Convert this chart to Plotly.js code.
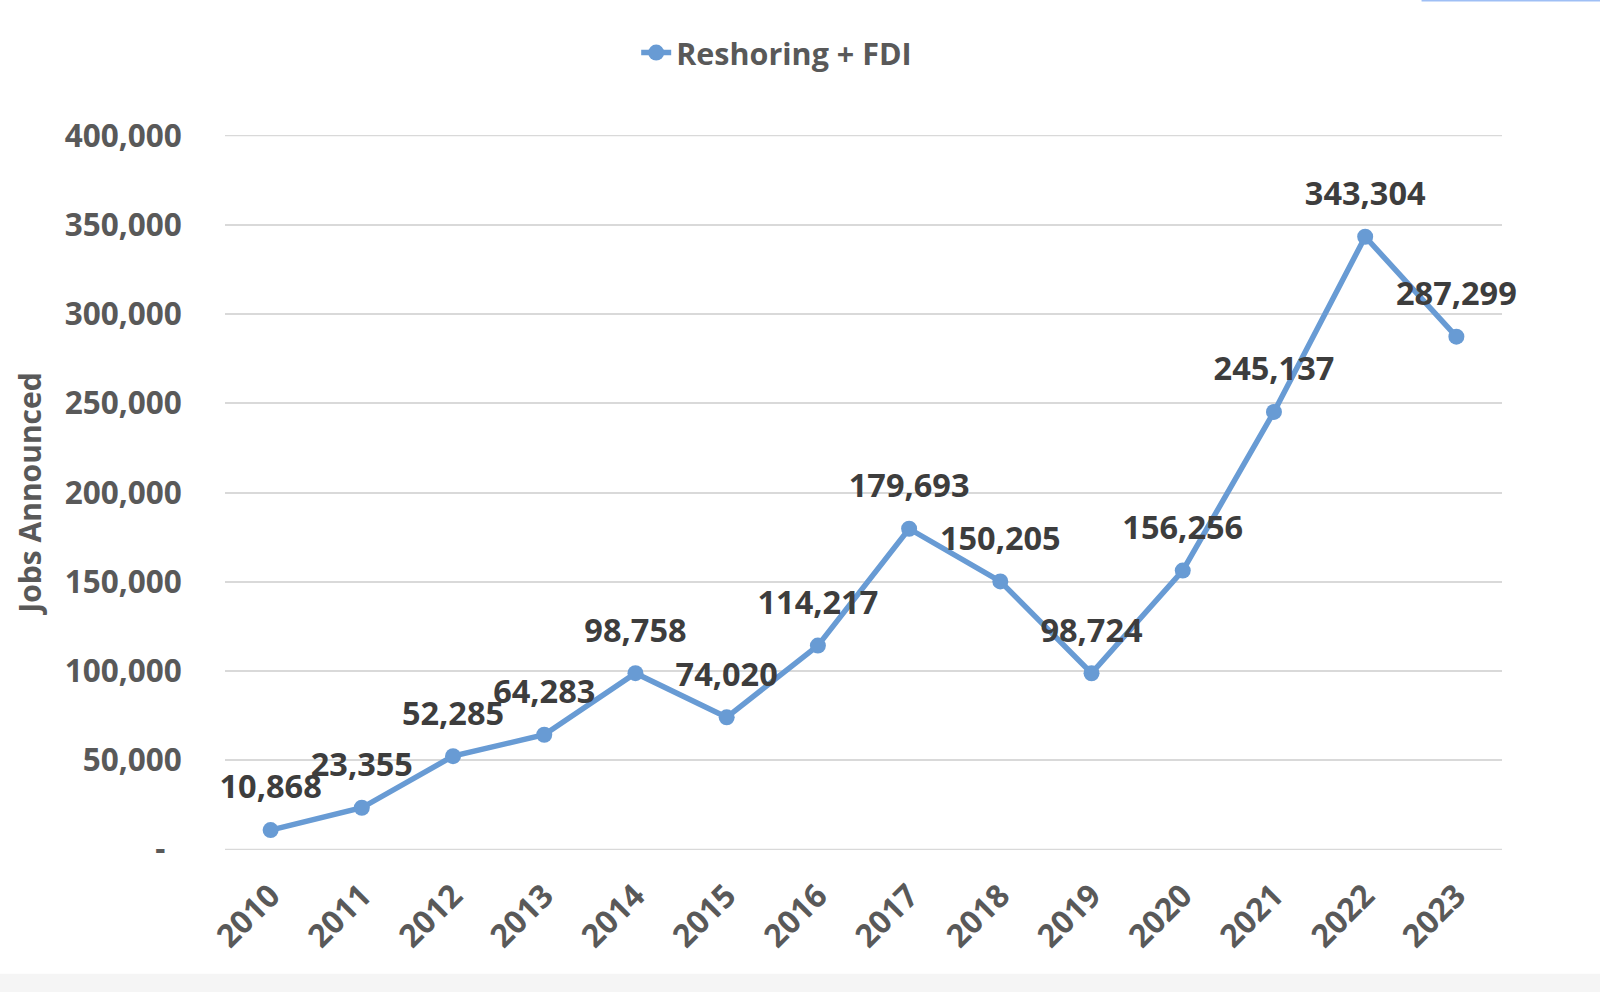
<!DOCTYPE html>
<html>
<head>
<meta charset="utf-8">
<script src="https://cdn.plot.ly/plotly-3.0.1.min.js"></script>
<style>
html,body{margin:0;padding:0;background:#fff;}
#chart{width:1600px;height:992px;}
</style>
</head>
<body>
<div id="chart"></div>
<script>
const years = ["2010","2011","2012","2013","2014","2015","2016","2017","2018","2019","2020","2021","2022","2023"];
const jobs = [10868, 23355, 52285, 64283, 98758, 74020, 114217, 179693, 150205, 98724, 156256, 245137, 343304, 287299];
const seriesName = "Reshoring + FDI";
const yTickVals = [0, 50000, 100000, 150000, 200000, 250000, 300000, 350000, 400000];
const yTickText = ["-\u00a0\u00a0", "50,000", "100,000", "150,000", "200,000", "250,000", "300,000", "350,000", "400,000"];
const yTitle = "Jobs Announced";

const FONT = "Open Sans, Noto Sans, sans-serif";
const lineColor = "#689bd4";

const lineTrace = {
  type: "scatter",
  mode: "lines+markers",
  x: years,
  y: jobs,
  name: seriesName,
  line: {color: lineColor, width: 5.5},
  marker: {color: lineColor, size: 16},
  hoverinfo: "x+y"
};

// data labels: same points, transparent large markers push the label above the point
const labelTrace = {
  type: "scatter",
  mode: "markers+text",
  x: years,
  y: jobs,
  text: jobs.map(v => v.toLocaleString("en-US")),
  textposition: "top center",
  textfont: {family: FONT, size: 32.5, color: "#3d3d3d", weight: 700},
  marker: {size: 36, color: "rgba(0,0,0,0)"},
  showlegend: false,
  hoverinfo: "skip",
  cliponaxis: false
};

const gridEdges = [0, 400000];

const layout = {
  width: 1600, height: 992,
  margin: {l: 225, r: 98, t: 135, b: 142},
  paper_bgcolor: "#ffffff",
  plot_bgcolor: "#ffffff",
  font: {family: FONT, color: "#595959"},
  showlegend: true,
  legend: {
    orientation: "h", x: 0.322, y: 1.115, xanchor: "left", yanchor: "middle",
    font: {family: FONT, size: 30.5, color: "#595959", weight: 700},
    bgcolor: "rgba(0,0,0,0)"
  },
  xaxis: {
    type: "category",
    range: [-0.5, 13.5],
    showgrid: false, zeroline: false, showline: false,
    tickangle: -45,
    ticks: "outside", ticklen: 13, tickcolor: "rgba(0,0,0,0)",
    tickfont: {family: FONT, size: 32, color: "#595959", weight: 700},
    fixedrange: true
  },
  yaxis: {
    range: [-300, 400300],
    tickvals: yTickVals, ticktext: yTickText,
    showgrid: true, gridcolor: "#d9d9d9", gridwidth: 1.5,
    zeroline: false, showline: false,
    ticks: "outside", ticklen: 36, tickcolor: "rgba(0,0,0,0)",
    tickfont: {family: FONT, size: 31.5, color: "#595959", weight: 700},
    title: {text: yTitle, standoff: 14, font: {family: FONT, size: 30, color: "#595959", weight: 700}},
    fixedrange: true
  },
  shapes: [
    {type: "rect", xref: "paper", yref: "paper", x0: -0.2, x1: 1.1, y0: -0.199, y1: -0.173,
     fillcolor: "#f5f5f5", line: {width: 0}, layer: "below"},
    {type: "line", xref: "paper", yref: "paper", x0: 0.937, x1: 1.08, y0: 1.188, y1: 1.188,
     line: {color: "#9fbff5", width: 2}}
  ].concat(gridEdges.map(v => ({
    type: "line", xref: "paper", yref: "y", x0: 0, x1: 1, y0: v, y1: v,
    line: {color: "#d9d9d9", width: 1.5}, layer: "below"
  })))
};

Plotly.newPlot("chart", [lineTrace, labelTrace], layout, {displayModeBar: false, responsive: false});
</script>
</body>
</html>
